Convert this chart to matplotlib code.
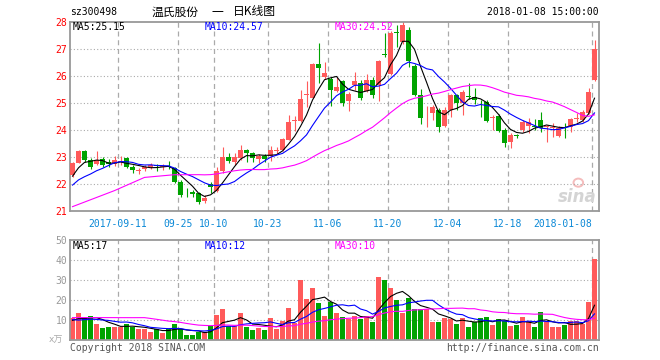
import numpy as np
import matplotlib
matplotlib.use('Agg')
import matplotlib.pyplot as plt
from matplotlib.patches import Ellipse

plt.rcParams['font.family'] = ['DejaVu Sans Mono', 'Noto Sans CJK SC']

# daily k-line of sz300498, 2017-08-30 .. 2018-01-08 (88 sessions)
open_ = [22.33, 22.79, 23.22, 22.89, 22.74, 22.93, 22.83, 22.74, 22.80, 22.95,
         22.64, 22.50, 22.56, 22.64, 22.70, 22.62, 22.66, 22.58, 22.09, 21.66,
         21.72, 21.65, 21.37, 22.00, 21.74, 22.48, 23.00, 22.83, 22.95, 23.26,
         23.15, 22.92, 23.04, 23.02, 23.22, 23.27, 23.64, 24.32, 24.34, 25.30,
         25.20, 26.45, 25.97, 25.90, 25.46, 25.80, 25.08, 25.65, 25.75, 25.45,
         25.84, 25.68, 26.82, 26.09, 27.63, 27.27, 27.72, 26.36, 25.29, 24.65,
         24.64, 24.74, 24.15, 24.74, 25.29, 25.00, 25.27, 25.22, 25.04, 25.04,
         24.44, 24.52, 24.00, 23.57, 23.79, 24.00, 24.15, 24.13, 24.37, 24.11,
         24.08, 23.78, 24.07, 24.10, 24.42, 24.37, 24.64, 25.84]
high = [22.82, 23.26, 23.25, 22.95, 23.22, 23.01, 22.91, 23.04, 23.04, 23.01,
        22.70, 22.60, 22.70, 22.77, 22.74, 22.74, 22.86, 22.64, 22.15, 21.84,
        21.78, 21.72, 21.59, 22.09, 22.64, 23.38, 23.16, 23.14, 23.44, 23.29,
        23.20, 23.12, 23.12, 23.40, 23.36, 23.70, 24.57, 24.52, 25.50, 25.80,
        26.48, 27.21, 26.52, 25.96, 25.95, 25.84, 25.41, 26.15, 25.87, 26.09,
        25.96, 26.60, 27.58, 27.68, 27.90, 28.30, 27.80, 26.43, 25.53, 24.88,
        24.92, 24.80, 24.84, 25.35, 25.35, 25.47, 25.74, 25.56, 25.10, 25.10,
        24.55, 24.59, 24.06, 23.90, 23.85, 24.37, 24.43, 24.42, 24.67, 24.18,
        24.25, 24.15, 24.25, 24.43, 24.64, 24.74, 25.56, 27.35]
low = [22.27, 22.76, 22.83, 22.56, 22.70, 22.64, 22.64, 22.67, 22.70, 22.60,
       22.40, 22.37, 22.48, 22.54, 22.48, 22.52, 22.56, 22.02, 21.53, 21.53,
       21.53, 21.25, 21.31, 21.66, 21.72, 22.40, 22.77, 22.70, 22.89, 22.83,
       22.83, 22.77, 22.83, 22.87, 23.12, 23.24, 23.63, 23.98, 24.31, 24.86,
       25.17, 25.75, 25.90, 24.90, 25.42, 24.90, 24.70, 25.47, 25.10, 25.41,
       25.20, 25.08, 26.72, 26.02, 27.09, 27.20, 26.33, 25.25, 24.22, 24.10,
       24.37, 23.94, 24.12, 24.50, 24.74, 24.55, 25.13, 24.98, 24.50, 24.31,
       24.00, 23.94, 23.36, 23.33, 23.72, 23.94, 23.88, 24.00, 23.94, 23.57,
       23.75, 23.75, 23.69, 23.94, 24.31, 24.31, 24.61, 25.82]
close = [22.79, 23.22, 22.89, 22.64, 22.89, 22.70, 22.74, 22.89, 22.86, 22.64,
         22.52, 22.52, 22.64, 22.70, 22.66, 22.64, 22.64, 22.09, 21.59, 21.65,
         21.62, 21.35, 21.49, 21.88, 22.48, 23.00, 22.86, 23.00, 23.26, 23.14,
         22.95, 23.04, 22.92, 23.27, 23.24, 23.65, 24.31, 24.34, 25.14, 25.33,
         26.43, 26.29, 26.12, 25.48, 25.60, 25.01, 25.33, 25.81, 25.20, 25.87,
         25.30, 26.54, 26.78, 27.60, 27.60, 27.90, 26.55, 25.29, 24.45, 24.68,
         24.86, 24.10, 24.74, 25.29, 25.00, 25.41, 25.24, 25.10, 25.02, 24.34,
         24.46, 23.98, 23.51, 23.82, 23.78, 24.31, 24.31, 24.12, 24.06, 24.13,
         24.10, 24.09, 24.06, 24.40, 24.43, 24.67, 25.40, 26.99]
# volume in 万手
volume = [10.8, 13.5, 11.5, 12.0, 8.0, 6.2, 6.7, 6.7, 6.5, 8.0,
          6.7, 5.3, 5.3, 4.0, 5.3, 3.7, 5.3, 8.2, 5.3, 2.5,
          2.5, 4.2, 4.0, 7.2, 12.5, 15.5, 7.2, 7.2, 13.5, 6.7,
          5.2, 6.2, 5.2, 11.2, 5.5, 9.5, 16.0, 8.5, 30.0, 20.5,
          26.0, 18.7, 12.0, 19.0, 13.7, 11.7, 10.7, 12.0, 10.7, 12.0,
          9.0, 31.7, 30.0, 26.0, 20.0, 13.7, 21.0, 15.7, 15.7, 15.7,
          9.0, 9.0, 11.0, 10.5, 8.0, 11.0, 6.5, 9.0, 11.0, 11.5,
          7.5, 10.5, 9.5, 7.0, 7.5, 11.5, 9.3, 6.5, 14.0, 9.2,
          6.5, 6.5, 7.5, 9.5, 9.5, 8.2, 19.0, 40.7]

# 29 sessions before the window, only used so the moving averages start like the picture
prior_close = [20.67, 20.34, 20.09, 20.34, 20.15, 20.19, 20.34, 19.93, 19.71, 19.59,
               19.59, 19.71, 22.10, 22.06, 22.04, 22.04, 21.49, 21.59, 21.65, 21.62,
               21.30, 21.70, 21.64, 21.69, 21.81, 21.67, 21.89, 22.44, 22.66]
prior_volume = [13, 12, 12, 8, 6, 7, 7, 7, 8, 7, 5, 5,
                16, 18, 17, 19, 16, 17, 18, 16, 16,
                9, 10, 9, 9, 9.0, 11.5, 10.5, 7.2]

tick_idx = [8, 18, 24, 33, 43, 53, 63, 73, 87]
tick_labels = ['2017-09-11', '09-25', '10-10', '10-23', '11-06',
               '11-20', '12-04', '12-18', '2018-01-08']
price_ticks = [21, 22, 23, 24, 25, 26, 27, 28]
vol_ticks = [10, 20, 30, 40, 50]

RED = '#ff5a5a'
GREEN = '#00a300'
GRID = '#aaaaaa'
BORDER = '#999999'
XLAB = '#0a88d6'


def moving_avg(prior, vals, n):
    full = np.array(prior + vals, dtype=float)
    k = len(prior)
    return np.array([full[k + i - n + 1:k + i + 1].mean() for i in range(len(vals))])


W, H = 660, 360


def box(l, t, r, b):
    return [l / W, 1 - b / H, (r - l) / W, (b - t) / H]


fig = plt.figure(figsize=(6.6, 3.6), dpi=100)
ax = fig.add_axes(box(70, 22, 599, 211))
axv = fig.add_axes(box(70, 240, 599, 340))

x = np.arange(len(close))
o = np.array(open_)
c = np.array(close)
col = np.where(c >= o, RED, GREEN)

# price candles
ax.vlines(x, low, high, colors=col, lw=0.8, zorder=2)
ax.bar(x, np.maximum(np.abs(c - o), 0.035), bottom=np.minimum(o, c),
       width=0.75, color=col, lw=0, zorder=3)
ax.plot(x, moving_avg(prior_close, close, 5), color='black', lw=0.8, zorder=4)
ax.plot(x, moving_avg(prior_close, close, 10), color='#0000ff', lw=0.8, zorder=4)
ax.plot(x, moving_avg(prior_close, close, 30), color='#ff00ff', lw=0.8, zorder=4)

# volume bars
axv.bar(x, volume, width=0.83, color=col, lw=0, zorder=2)
axv.plot(x, moving_avg(prior_volume, volume, 5), color='black', lw=0.8, zorder=4)
axv.plot(x, moving_avg(prior_volume, volume, 10), color='#0000ff', lw=0.8, zorder=4)
axv.plot(x, moving_avg(prior_volume, volume, 30), color='#ff00ff', lw=0.8, zorder=4)

grid_x = [i - 0.42 for i in tick_idx]
for a, lo, hi, ticks in [(ax, 21, 28, price_ticks), (axv, 0, 50, vol_ticks)]:
    a.set_xlim(-0.42, 87.75)
    a.set_ylim(lo, hi)
    a.set_yticks(ticks)
    for v in ticks:
        if lo < v < hi:
            a.axhline(v, color=GRID, lw=0.8, ls=(0, (1, 2)), zorder=1)
    for gx in grid_x:
        a.axvline(gx, color=GRID, lw=0.9, ls=(0, (4, 3)), zorder=1)
    for s in a.spines.values():
        s.set_color(BORDER)
        s.set_linewidth(1.3)
    a.tick_params(length=0, pad=2, labelsize=7)

ax.set_yticklabels([str(v) for v in price_ticks], color='red')
axv.set_yticklabels([str(v) for v in vol_ticks], color='#999999')
ax.set_xticks(grid_x)
ax.set_xticklabels(tick_labels, color=XLAB)
ax.get_xticklabels()[-1].set_ha('right')
ax.tick_params(axis='x', pad=6)
axv.set_xticks([])

# texts
fs = 7
fig.text(70 / W, 1 - 12 / H, 'sz300498', fontsize=fs, va='center')
fig.text(152 / W, 1 - 12 / H, '温氏股份', fontsize=8.5, va='center',
         family=['Noto Sans CJK SC'])
fig.text(212 / W, 1 - 12 / H, '一', fontsize=8.5, va='center',
         family=['Noto Sans CJK SC'])
fig.text(233 / W, 1 - 12 / H, '日K线图', fontsize=8.5, va='center',
         family=['Noto Sans CJK SC'])
fig.text(599 / W, 1 - 12 / H, '2018-01-08 15:00:00', fontsize=fs, va='center', ha='right')

for yy, labels in [(27, ['MA5:25.15', 'MA10:24.57', 'MA30:24.52']),
                   (246, ['MA5:17', 'MA10:12', 'MA30:10'])]:
    for xx, txt, cc in zip([73, 205, 335], labels, ['black', '#0000ff', '#ff00ff']):
        fig.text(xx / W, 1 - yy / H, txt, fontsize=fs, color=cc, va='center')

fig.text(63 / W, 1 - 340 / H, 'x万', fontsize=6.5, color='#aaaaaa', va='center',
         ha='right', family=['DejaVu Sans', 'Noto Sans CJK SC'])
fig.text(70 / W, 1 - 348 / H, 'Copyright 2018 SINA.COM', fontsize=fs,
         color='#555555', va='center')
fig.text(599 / W, 1 - 348 / H, 'http://finance.sina.com.cn', fontsize=fs,
         color='#555555', va='center', ha='right')

# sina watermark
fig.text(577 / W, 1 - 197 / H, 'sina', fontsize=12, color='#d4d4d4', style='italic',
         weight='bold', ha='center', va='center', family=['DejaVu Sans'], zorder=0)
ax.add_patch(Ellipse((84.3, 22.05), 1.6, 0.3, fc='none', ec='#f5bcbc', lw=1.4, zorder=0))

fig.savefig('out.png', dpi=100)
